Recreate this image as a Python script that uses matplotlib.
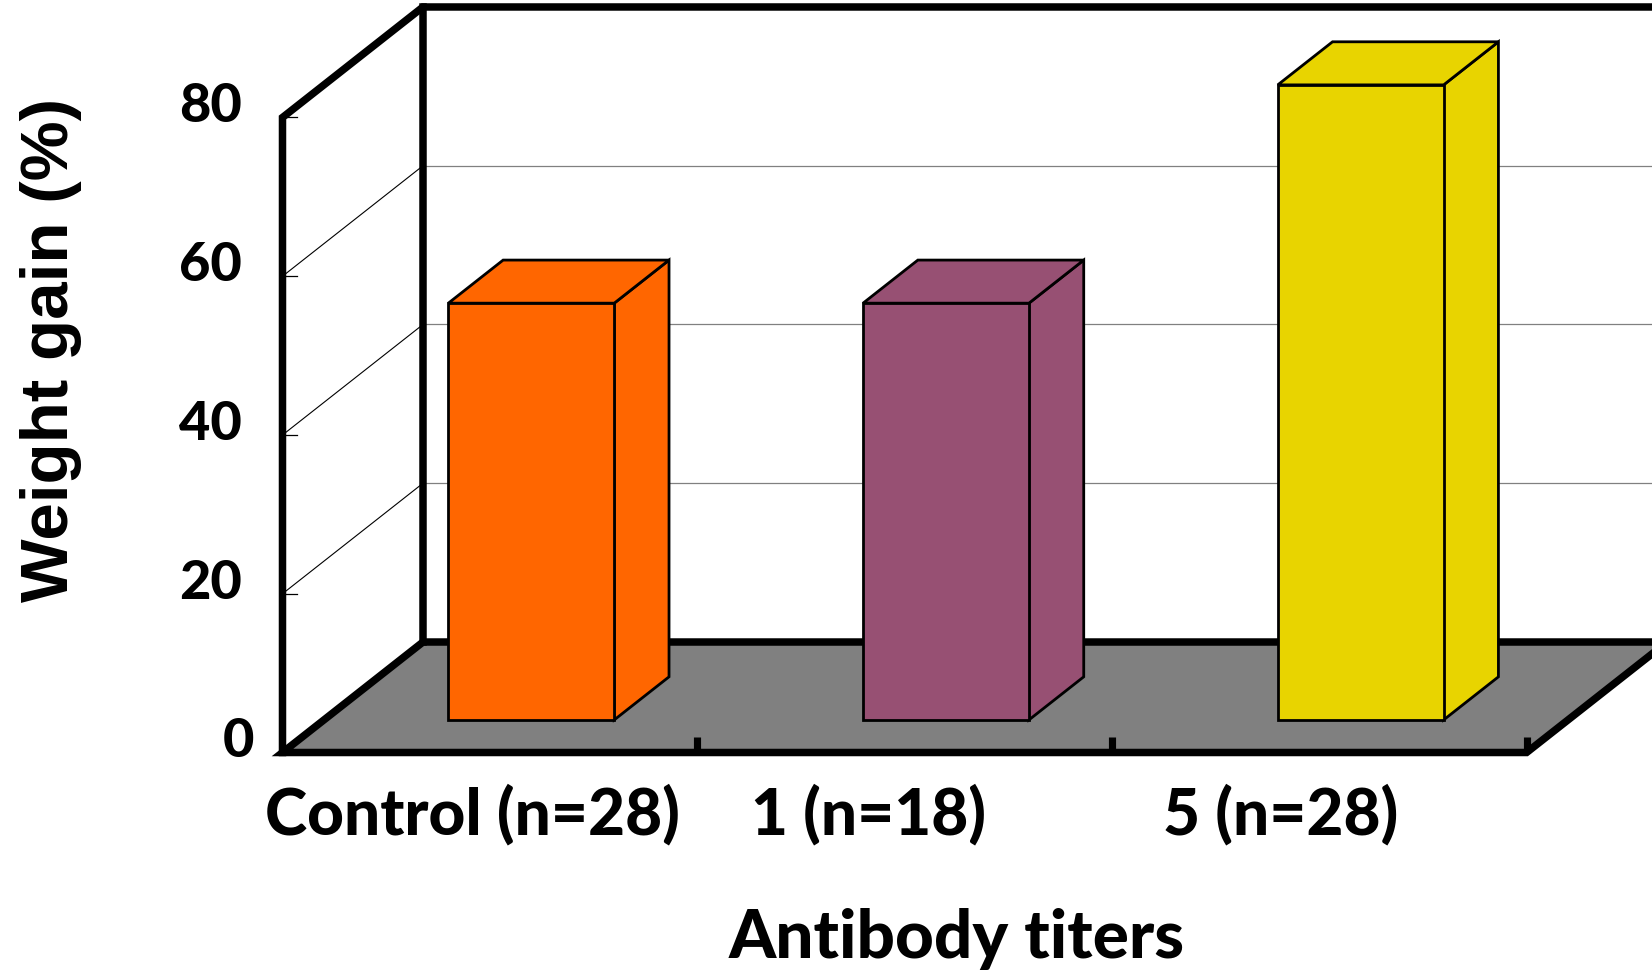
import matplotlib
matplotlib.use("Agg")
import matplotlib.pyplot as plt
from matplotlib.patches import Polygon

# ---------------- data ----------------
categories = ["Control (n=28)", "1 (n=18)", "5 (n=28)"]
values = [52.5, 52.5, 80.0]
yticks = [0, 20, 40, 60, 80]
ytick_labels = ["0", "20", "40", "60", "80"]
bar_colors = ["#FF6600", "#975073", "#E8D400"]
xlabel = "Antibody titers"
ylabel = "Weight gain (%)"

# ---------------- layout (pseudo-3D projection) ----------------
DX, DY = 0.3388, 13.92        # full depth offset (category units, value units)
D0, BD, BW = 0.295, 0.39, 0.40  # bar front depth, bar depth, bar width
YMAX = 80
THICK = 5.4
label_nudge = [-0.041, -0.088, -0.092]
N = len(categories)

fig = plt.figure(figsize=(16.52, 9.80), dpi=100)
ax = fig.add_axes([0, 0, 1, 1])
ax.set_xlim(-0.6812, 3.3024)
ax.set_ylim(-28.66, 94.80)
ax.axis("off")

# floor
floor = Polygon([(0, 0), (DX, DY), (N + DX, DY), (N, 0)], closed=True,
                facecolor="#808080", edgecolor="black", lw=THICK,
                joinstyle="miter", zorder=1)
ax.add_patch(floor)

# back wall gridlines and side-wall diagonals
for v in yticks[1:-1]:
    ax.plot([DX, N + DX], [v + DY, v + DY], color="#808080", lw=0.9, zorder=2)
    ax.plot([0, DX], [v, v + DY], color="black", lw=0.8, zorder=2)
for v in yticks[1:]:
    ax.plot([0, 0.035], [v, v], color="black", lw=0.9, zorder=2)

# frame: front axis, top diagonal, top border, back vertical
ax.plot([0, 0, DX, N + DX + 0.2], [0, YMAX, YMAX + DY, YMAX + DY],
        color="black", lw=THICK, solid_joinstyle="miter", zorder=3)
ax.plot([DX, DX], [DY, YMAX + DY], color="black", lw=THICK,
        solid_capstyle="projecting", zorder=3)
# ticks on the floor front edge
for k in range(1, N + 1):
    ax.plot([k, k], [0, 2.0], color="black", lw=THICK * 0.95,
            solid_capstyle="butt", zorder=3)

# bars
for i, (v, c) in enumerate(zip(values, bar_colors)):
    xc = i + 0.5 + D0 * DX
    x0, x1 = xc - BW / 2, xc + BW / 2
    y0 = D0 * DY
    y1 = v + D0 * DY
    ddx, ddy = BD * DX, BD * DY
    kw = dict(closed=True, facecolor=c, edgecolor="black", lw=2.0,
              joinstyle="miter", zorder=4)
    ax.add_patch(Polygon([(x1, y0), (x1 + ddx, y0 + ddy), (x1 + ddx, y1 + ddy), (x1, y1)], **kw))
    ax.add_patch(Polygon([(x0, y1), (x1, y1), (x1 + ddx, y1 + ddy), (x0 + ddx, y1 + ddy)], **kw))
    ax.add_patch(Polygon([(x0, y0), (x1, y0), (x1, y1), (x0, y1)], **kw))

# tick labels
FONT = "Lato"
for v, lab in zip(yticks, ytick_labels):
    xr = -0.0687 if v == 0 else -0.0977
    ax.text(xr, v - 0.6, lab, ha="right", va="baseline", fontsize=39,
            fontfamily=FONT, fontweight="black", zorder=5)

# category labels
for i, lab in enumerate(categories):
    ax.text(i + 0.5 + label_nudge[i], -10.39, lab, ha="center", va="baseline",
            fontsize=46, fontfamily=FONT, fontweight="black", zorder=5)

# axis titles
ax.text(1.6265, -25.9, xlabel, ha="center", va="baseline", fontsize=48.5,
        fontfamily=FONT, fontweight="black")
ax.text(-0.558, 50.7, ylabel, ha="center", va="center", rotation=90,
        fontsize=48.5, fontfamily="Liberation Sans", fontweight="bold")

fig.savefig("out.png", dpi=100)
